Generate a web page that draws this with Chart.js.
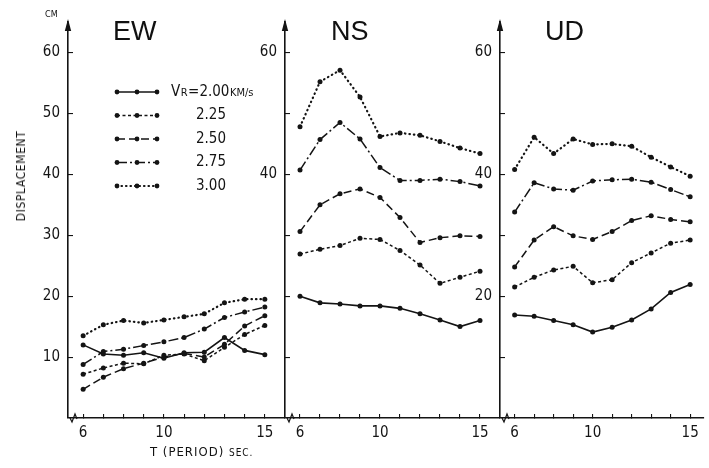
<!DOCTYPE html>
<html><head><meta charset="utf-8">
<script src="https://cdn.jsdelivr.net/npm/chart.js@4.4.1/dist/chart.umd.min.js"></script>
<style>
html,body{margin:0;padding:0;background:#fff;}
#wrap{position:relative;width:709px;height:468px;overflow:hidden;background:#fff;}
canvas{position:absolute;top:0;}
.lbl{position:absolute;font-family:"Liberation Sans Narrow","DejaVu Sans Condensed","DejaVu Sans",sans-serif;color:#111;white-space:nowrap;line-height:1;}
.ttl{position:absolute;font-family:"Liberation Sans",Arial,sans-serif;font-size:27px;line-height:1;color:#111;}
</style></head><body>
<div id="wrap">
  <canvas id="ew" width="290" height="468" style="left:0px"></canvas>
  <canvas id="ns" width="280" height="468" style="left:225px"></canvas>
  <canvas id="ud" width="269" height="468" style="left:440px"></canvas>
  <div class="ttl" style="left:113px;top:18px">EW</div>
  <div class="ttl" style="left:331px;top:18px">NS</div>
  <div class="ttl" style="left:545px;top:18px">UD</div>
  <div class="lbl" style="left:45px;top:10px;font-size:9px">CM</div>
  <div class="lbl" style="left:21px;top:176px;font-size:12px;letter-spacing:0.6px;transform:translate(-50%,-50%) rotate(-90deg)">DISPLACEMENT</div>
  <div class="lbl" style="left:150px;top:445px;font-size:13px;letter-spacing:1px">T (PERIOD) <span style="font-size:10px">SEC.</span></div>
</div>
<script>
// ---- data ----
const periods = [6, 7, 8, 9, 10, 11, 12, 13, 14, 15];
const vrLabels = ['2.00', '2.25', '2.50', '2.75', '3.00'];

const ew200 = [12.0, 10.5, 10.3, 10.7, 9.8, 10.7, 10.8, 13.2, 11.1, 10.4];
const ew225 = [7.2, 8.2, 9.0, 8.9, 10.3, 10.5, 9.4, 11.6, 13.7, 15.2];
const ew250 = [4.7, 6.7, 8.1, 9.0, 10.0, 10.6, 10.0, 12.1, 15.1, 16.8];
const ew275 = [8.8, 10.9, 11.3, 11.9, 12.5, 13.2, 14.6, 16.5, 17.4, 18.2];
const ew300 = [13.5, 15.3, 16.0, 15.6, 16.1, 16.6, 17.1, 18.9, 19.5, 19.5];

const ns200 = [20.0, 18.9, 18.7, 18.4, 18.4, 18.0, 17.1, 16.1, 15.0, 16.0];
const ns225 = [26.9, 27.7, 28.3, 29.5, 29.3, 27.5, 25.1, 22.1, 23.1, 24.1];
const ns250 = [30.6, 35.0, 36.8, 37.6, 36.2, 32.9, 28.8, 29.6, 29.9, 29.8];
const ns275 = [40.7, 45.7, 48.5, 45.8, 41.1, 39.0, 39.0, 39.2, 38.8, 38.1];
const ns300 = [47.8, 55.2, 57.1, 52.7, 46.2, 46.8, 46.4, 45.4, 44.3, 43.4];

const ud200 = [16.9, 16.7, 16.0, 15.3, 14.1, 14.9, 16.1, 17.9, 20.6, 21.9];
const ud225 = [21.5, 23.1, 24.3, 24.9, 22.2, 22.7, 25.5, 27.1, 28.7, 29.2];
const ud250 = [24.8, 29.2, 31.4, 29.9, 29.3, 30.6, 32.4, 33.2, 32.6, 32.2];
const ud275 = [33.8, 38.6, 37.6, 37.4, 38.9, 39.1, 39.2, 38.7, 37.5, 36.3];
const ud300 = [40.8, 46.1, 43.4, 45.8, 44.9, 45.0, 44.6, 42.8, 41.2, 39.7];

const xTickValues = [6, 7, 8, 9, 10, 11, 12, 13, 14, 15];
const xTickLabels = [6, 10, 15];
const yTickValues = [10, 20, 30, 40, 50, 60];
const ewYLabels = [10, 20, 30, 40, 50, 60];
const nsYLabels = [40, 60];
const udYLabels = [20, 40, 60];

// ---- styles ----
const INK = '#141414';
const FONT = '"Liberation Sans Narrow","DejaVu Sans Condensed","DejaVu Sans",sans-serif';
const dashes = [[], [3, 2.5], [8, 4], [10, 3, 2, 3], [0.5, 4]];
const widths = [1.6, 1.5, 1.5, 1.5, 2.2];

function makeDatasets(seriesList) {
  return seriesList.map((vals, i) => ({
    label: vrLabels[i],
    data: periods.map((t, k) => ({ x: t, y: vals[k] })),
    borderColor: INK,
    backgroundColor: INK,
    borderWidth: widths[i],
    borderDash: dashes[i],
    borderCapStyle: i === 4 ? 'round' : 'butt',
    pointRadius: 2.5,
    pointBorderWidth: 0,
    pointBackgroundColor: INK,
    tension: 0,
    fill: false
  }));
}

const decoPlugin = {
  id: 'deco',
  afterDraw(chart) {
    const { ctx, chartArea } = chart;
    const l = chartArea.left, t = chartArea.top, b = chartArea.bottom;
    ctx.save();
    ctx.fillStyle = INK;
    ctx.beginPath();
    ctx.moveTo(l, t - 3);
    ctx.lineTo(l - 3.2, t + 9);
    ctx.lineTo(l + 3.2, t + 9);
    ctx.closePath();
    ctx.fill();
    ctx.strokeStyle = INK;
    ctx.lineWidth = 1.2;
    ctx.beginPath();
    ctx.moveTo(l + 2, b);
    ctx.lineTo(l + 4, b + 4);
    ctx.lineTo(l + 7, b - 4);
    ctx.lineTo(l + 9, b + 1);
    ctx.stroke();
    ctx.restore();
  }
};

const legendPlugin = {
  id: 'innerLegend',
  afterDatasetsDraw(chart) {
    const { ctx } = chart;
    const x1 = 117, x2 = 157, y0 = 92, step = 23.5;
    ctx.save();
    chart.data.datasets.forEach((ds, i) => {
      const y = y0 + i * step;
      ctx.strokeStyle = INK;
      ctx.lineWidth = ds.borderWidth;
      ctx.setLineDash(ds.borderDash);
      ctx.lineCap = ds.borderCapStyle;
      ctx.beginPath();
      ctx.moveTo(x1, y);
      ctx.lineTo(x2, y);
      ctx.stroke();
      ctx.setLineDash([]);
      ctx.fillStyle = INK;
      [x1, (x1 + x2) / 2, x2].forEach(px => {
        ctx.beginPath();
        ctx.arc(px, y, 2.4, 0, Math.PI * 2);
        ctx.fill();
      });
      ctx.textBaseline = 'middle';
      ctx.textAlign = 'left';
      if (i === 0) {
        let x = 171;
        const parts = [['V', 15, 0], ['R', 11, 1], ['=' + ds.label, 15, 0], ['KM/s', 11, 1]];
        parts.forEach(([s, sz, dy]) => {
          ctx.font = sz + 'px ' + FONT;
          ctx.fillText(s, x, y + dy);
          x += ctx.measureText(s).width + 0.5;
        });
      } else {
        ctx.font = '15px ' + FONT;
        ctx.fillText(ds.label, 196, y);
      }
    });
    ctx.restore();
  }
};

function makeChart(id, seriesList, yLabels, xMax, yAxisWidth, padRight, withLegend) {
  const plugins = [decoPlugin];
  if (withLegend) plugins.push(legendPlugin);
  return new Chart(document.getElementById(id), {
    type: 'line',
    data: { datasets: makeDatasets(seriesList) },
    plugins,
    options: {
      responsive: false,
      animation: false,
      events: [],
      layout: { padding: { top: 10, right: padRight, left: 0, bottom: 0 } },
      plugins: { legend: { display: false }, tooltip: { enabled: false } },
      scales: {
        x: {
          type: 'linear',
          min: 5.25,
          max: xMax,
          afterBuildTicks: s => { s.ticks = xTickValues.map(v => ({ value: v })); },
          afterFit: s => { s.height = 50; },
          grid: { drawOnChartArea: false, tickLength: -4, color: INK, lineWidth: 1.1 },
          border: { color: INK, width: 1.6 },
          ticks: {
            autoSkip: false, maxRotation: 0, padding: 10, color: INK,
            font: { family: FONT, size: 15 },
            callback: v => xTickLabels.includes(v) ? String(v) : ''
          }
        },
        y: {
          min: 0,
          max: 65,
          afterBuildTicks: s => { s.ticks = yTickValues.map(v => ({ value: v })); },
          afterFit: s => { s.width = yAxisWidth; },
          grid: { drawOnChartArea: false, tickLength: -5, color: INK, lineWidth: 1.1 },
          border: { color: INK, width: 1.6 },
          ticks: {
            padding: 13, color: INK,
            font: { family: FONT, size: 15 },
            callback: v => yLabels.includes(v) ? String(v) : ''
          }
        }
      }
    }
  });
}

makeChart('ew', [ew200, ew225, ew250, ew275, ew300], ewYLabels, 16, 68, 5, true);
makeChart('ns', [ns200, ns225, ns250, ns275, ns300], nsYLabels, 16, 60, 5, false);
makeChart('ud', [ud200, ud225, ud250, ud275, ud300], udYLabels, 15.7, 60, 0, false);
</script>
</body></html>
